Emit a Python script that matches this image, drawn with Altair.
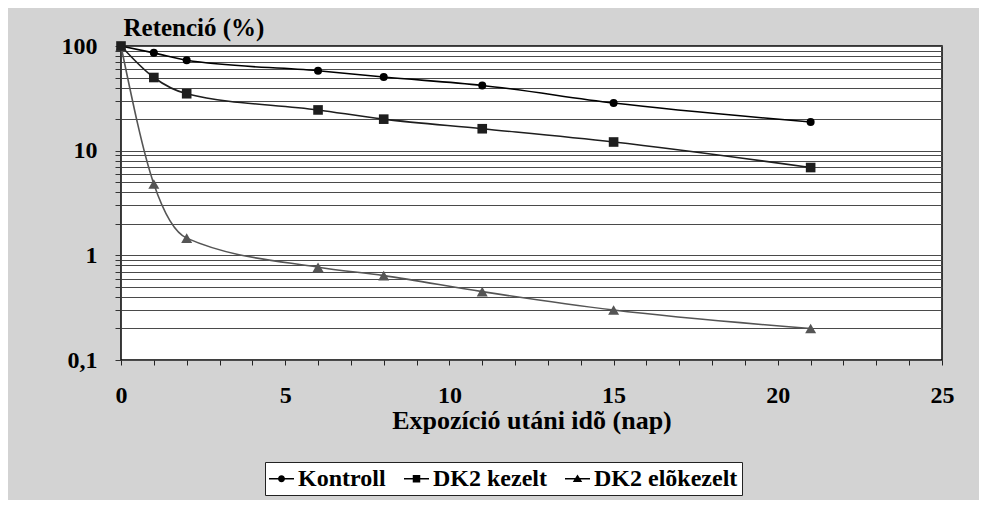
import altair as alt
import pandas as pd

# ---- data ----
days = [0, 1, 2, 6, 8, 11, 15, 21]
kontroll = [100, 86, 73, 58, 50.5, 42, 28.5, 18.8]
dk2_kezelt = [100, 50, 35, 24.5, 20, 16.2, 12.1, 6.9]
dk2_elokezelt = [100, 4.8, 1.46, 0.77, 0.64, 0.45, 0.30, 0.20]
series_names = ["Kontroll", "DK2 kezelt", "DK2 elõkezelt"]

y_tick_values = [0.1, 0.2, 0.3, 0.4, 0.5, 0.6, 0.7, 0.8, 0.9,
                 1, 2, 3, 4, 5, 6, 7, 8, 9,
                 10, 20, 30, 40, 50, 60, 70, 80, 90, 100]
x_tick_values = [0, 1, 2, 3, 4, 5, 6, 7, 8, 9, 10, 11, 12, 13, 14, 15,
                 16, 17, 18, 19, 20, 21, 22, 23, 24, 25]

FONT = "Liberation Serif, Times New Roman, DejaVu Serif, serif"

rows = []
for name, vals in zip(series_names, [kontroll, dk2_kezelt, dk2_elokezelt]):
    for d, v in zip(days, vals):
        rows.append({"nap": d, "ret": v, "sorozat": name})
df = pd.DataFrame(rows)

# drawing order for markers: triangles, circles, squares on top
point_order = ["DK2 elõkezelt", "Kontroll", "DK2 kezelt"]
df_points = pd.concat([df[df.sorozat == s] for s in point_order])

x_enc = alt.X(
    "nap:Q",
    scale=alt.Scale(domain=[0, 25], nice=False, zero=False),
    axis=alt.Axis(
        values=x_tick_values,
        labelExpr="datum.value % 5 == 0 ? '' + datum.value : ''",
        labelOverlap=False,
        labelFlush=False,
        grid=False,
        domain=False,
        tickSize=5,
        tickColor="#222",
        tickWidth=1,
        labelFont=FONT,
        labelFontSize=24,
        labelFontWeight="bold",
        labelColor="black",
        labelBaseline="alphabetic",
        labelPadding=37,
        title="Expozíció utáni idõ (nap)",
        titleFont=FONT,
        titleFontSize=26,
        titleFontWeight="bold",
        titleColor="black",
        titleBaseline="alphabetic",
        titleY=68,
    ),
)

y_enc = alt.Y(
    "ret:Q",
    scale=alt.Scale(type="log", domain=[0.1, 100], nice=False),
    axis=alt.Axis(
        values=y_tick_values,
        labelExpr="datum.value == 0.1 ? '0,1' : (datum.value == 1 || datum.value == 10 || datum.value == 100) ? format(datum.value, 'd') : ''",
        labelOverlap=False,
        labelFlush=False,
        grid=True,
        gridColor="#4a4a4a",
        gridWidth=1,
        domain=False,
        tickSize=6,
        tickColor="#333",
        labelFont=FONT,
        labelFontSize=24,
        labelFontWeight="bold",
        labelColor="black",
        labelPadding=18,
        labelBaseline="middle",
        title="Retenció (%)",
        titleFont=FONT,
        titleFontSize=25,
        titleFontWeight="bold",
        titleColor="black",
        titleAngle=0,
        titleAlign="left",
        titleBaseline="alphabetic",
        titleX=2,
        titleY=-11,
    ),
)

color_scale = alt.Scale(domain=series_names, range=["#000000", "#1e1e1e", "#555555"])

lines = alt.Chart(df).mark_line(interpolate="monotone").encode(
    x=x_enc,
    y=y_enc,
    detail="sorozat:N",
    color=alt.Color("sorozat:N", scale=color_scale, legend=None),
    strokeWidth=alt.StrokeWidth(
        "sorozat:N",
        scale=alt.Scale(domain=series_names, range=[1.6, 1.6, 2.6]),
        legend=None,
    ),
)

points = alt.Chart(df_points).mark_point(filled=True, opacity=1).encode(
    x=x_enc,
    y=y_enc,
    color=alt.Color("sorozat:N", scale=color_scale, legend=None),
    shape=alt.Shape(
        "sorozat:N",
        scale=alt.Scale(domain=series_names, range=["circle", "square", "triangle-up"]),
        legend=None,
    ),
    size=alt.Size(
        "sorozat:N",
        scale=alt.Scale(domain=series_names, range=[64, 121, 110]),
        legend=None,
    ),
)

# legend glyphs: a short line with the marker on it (all filled areas)
legend_paths = [
    "M-1,-0.06H1V0.06H-1ZM0.28,0A0.28,0.28,0,1,1,-0.28,0A0.28,0.28,0,1,1,0.28,0Z",
    "M-1,-0.06H1V0.06H-1ZM-0.3,-0.3H0.3V0.3H-0.3Z",
    "M-1,-0.06H1V0.06H-1ZM0,-0.34L0.38,0.26H-0.38Z",
]

legend_layer = alt.Chart(df).transform_filter("datum.nap < 0").mark_point(
    filled=True, color="black", opacity=1, size=625
).encode(
    x=x_enc,
    y=y_enc,
    shape=alt.Shape(
        "sorozat:N",
        scale=alt.Scale(domain=series_names, range=legend_paths),
        legend=alt.Legend(
            title=None,
            orient="none",
            legendX=144,
            legendY=416,
            direction="horizontal",
            fillColor="white",
            strokeColor="#222",
            padding=4,
            labelFont=FONT,
            labelFontSize=24,
            labelFontWeight="bold",
            labelColor="black",
            labelOffset=4,
            labelLimit=400,
            columnPadding=18,
            symbolSize=625,
            symbolStrokeWidth=0,
            symbolFillColor="black",
            symbolOpacity=1,
        ),
    ),
)

chart = (
    alt.layer(lines, points, legend_layer)
    .resolve_scale(shape="independent", size="independent")
    .properties(
        width=821,
        height=314,
        padding={"left": 113, "top": 38, "right": 37, "bottom": 140},
        autosize=alt.AutoSizeParams(type="none"),
        background="#d3d3d3",
    )
    .configure(font=FONT)
    .configure_view(fill="white", stroke="black", strokeWidth=1.5)
)

chart.save("out.html", embed_options={"renderer": "svg", "actions": False})
